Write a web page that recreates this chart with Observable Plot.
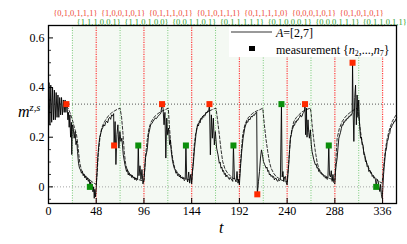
<!DOCTYPE html>
<html><head><meta charset="utf-8">
<script src="https://cdn.jsdelivr.net/npm/d3@7"></script>
<script src="https://cdn.jsdelivr.net/npm/@observablehq/plot@0.6"></script>
<style>
body{margin:0;background:#fff;}
#wrap{position:relative;width:407px;height:244px;font-family:"Liberation Serif",serif;color:#000;}
#wrap svg{position:absolute;left:0;top:0;}
#wrap svg text{font-family:"Liberation Serif",serif;}
.ov{position:absolute;white-space:nowrap;font-family:"Liberation Serif",serif;}
</style></head><body><div id="wrap"></div>
<script>
// ---------- data ----------
const xTicks = [0, 48, 96, 144, 192, 240, 288, 336];
const yTicks = [0, 0.2, 0.4, 0.6];
const yMinor = [-0.05, 0.05, 0.1, 0.15, 0.25, 0.3, 0.35, 0.45, 0.5, 0.55];
const redLines = [48, 96, 144, 192, 240, 288, 336];
const greenLines = [24, 72, 120, 168, 216, 264, 312];
const thirdLevel = [1 / 3];
const zeroLevel = [0];
const shadeStart = [24];
const shadeEnd = [336];

const redT = [18, 66, 114.2, 161.9, 210, 258, 305.8];
const redV = [1/3, 1/6, 1/3, 1/3, -0.03, 1/3, 0.5];
const greenT = [41.6, 90.3, 138.2, 186, 234.3, 281.9, 329.6];
const greenV = [0, 1/6, 1/6, 1/6, 1/3, 1/6, 0];

const redLabels = ["{0,1,0,1,1,1}", "{1,0,0,1,0,1}", "{0,1,1,1,0,1}", "{0,1,0,1,1,1}", "{0,1,1,1,1,0}", "{0,0,0,1,0,1}", "{0,1,0,1,0,1}"];
const redLabelT = [27, 75, 123, 171, 219, 267, 315];
const greenLabels = ["{1,1,1,0,0,1}", "{1,1,0,1,0,0}", "{0,0,1,1,0,1}", "{0,1,1,1,1,1}", "{0,1,0,0,0,1}", "{0,0,0,1,1,1}", "{0,1,1,0,1,1}"];
const greenLabelT = [50.5, 98.5, 146.5, 194.5, 242.5, 290.5, 338];

const solid0 = [[0,0.25],[0.5,0.42],[1.4,0.25],[2.3,0.41],[3.2,0.26],[4.1,0.40],[5,0.27],[5.9,0.39],[6.8,0.27],[7.7,0.38],[8.6,0.28],[9.5,0.37],[10.4,0.28],[11.3,0.36],[12.2,0.29],[13.1,0.36],[14,0.29],[14.9,0.35],[15.8,0.30],[16.7,0.35],[17.5,0.30],[18,0.333]];
const solid1 = [[18.8,0.317],[19.5,0.27],[20.1,0.30],[20.8,0.24],[21.5,0.29],[22.2,0.20],[23,0.26],[23.4,0.13],[24,0.25],[24.8,0.24],[25.8,0.196],[26.8,0.223],[27.6,0.17],[28.4,0.185],[29.2,0.142],[30.2,0.095],[31.2,0.075],[32.2,0.068],[33.2,0.055],[34.1,0.062],[34.9,0.045],[35.7,0.052],[36.6,0.036],[37.5,0.044],[38.3,0.028],[39.2,0.036],[40.1,0.022],[41,0.03],[41.6,0],[42.4,0.02],[43.2,0.002],[44,0.01],[44.7,-0.02],[45.4,0.0],[46,-0.046],[46.6,-0.01],[47.3,-0.04],[48,-0.005]];
const solid2 = [[48.8,0.06],[49.6,0.12],[50.5,0.165],[51.5,0.2],[52.5,0.215],[53.5,0.23],[54.5,0.238],[55.5,0.25],[56.5,0.245],[57.5,0.26],[58.5,0.265],[59.5,0.258],[60.5,0.275],[61.5,0.28],[62.5,0.272],[63.5,0.29],[64.5,0.285],[65.5,0.295],[66,0.167],[67,0.263],[67.8,0.09],[68.8,0.21],[69.8,0.25],[70.8,0.156],[71.8,0.223],[72.8,0.183],[73.8,0.196],[75.2,0.129],[76.9,0.089],[78.5,0.062],[79.4,0.07],[80.2,0.048],[81.1,0.056],[81.9,0.045],[82.8,0.05],[83.6,0.038],[84.4,0.046],[85.2,0.035],[86,0.04],[86.9,0.028],[87.8,0.036],[88.6,0.026],[89.6,0.03],[90.3,0.167],[91,0.045],[92,0.085],[93,0.03],[94,0.07],[95,0.012],[96,0.03]];
const solid3 = [[96.8,0.07],[97.7,0.12],[99.3,0.15],[100.6,0.21],[101.7,0.23],[102.7,0.25],[104,0.255],[105,0.263],[106.2,0.27],[107.3,0.277],[108.6,0.275],[110,0.284],[111.5,0.29],[113,0.297],[114.2,0.333],[115.2,0.317],[116.2,0.25],[117.1,0.30],[118,0.116],[118.9,0.277],[119.8,0.21],[120.8,0.237],[121.8,0.17],[122.6,0.19],[123.5,0.142],[124.8,0.102],[126.5,0.075],[127.4,0.068],[128.2,0.055],[129,0.06],[129.9,0.045],[130.8,0.05],[131.6,0.04],[132.4,0.046],[133.2,0.035],[134,0.04],[134.9,0.032],[135.8,0.036],[136.6,0.025],[137.5,0.03],[138.2,0.167],[139,0.035],[140,0.02],[141,0.06],[142,0.015],[143,0.05],[144,0.012]];
const solid4 = [[144.8,0.06],[145.6,0.09],[146.9,0.156],[148.3,0.21],[149.9,0.25],[150.8,0.245],[151.7,0.263],[152.5,0.258],[153.4,0.277],[154.2,0.272],[155,0.284],[156,0.28],[156.7,0.29],[157.6,0.287],[158.4,0.301],[159.3,0.298],[160.1,0.306],[161,0.303],[161.9,0.333],[162.8,0.129],[163.8,0.29],[164.8,0.196],[165.8,0.277],[166.8,0.169],[167.8,0.223],[169.1,0.156],[170.5,0.129],[171.8,0.095],[172.6,0.1],[173.5,0.075],[174.3,0.08],[175.2,0.062],[176,0.066],[176.9,0.05],[177.7,0.055],[178.5,0.04],[179.3,0.048],[180.2,0.042],[181,0.036],[181.9,0.03],[182.7,0.038],[183.6,0.032],[184.4,0.028],[185.3,0.022],[186,0.167],[187,0.032],[188,0.028],[188.6,0.02],[189.6,0.062],[190.6,0.015],[191.3,0.03],[192,0.008]];
const solid5 = [[193,0.075],[194.3,0.142],[195.7,0.196],[197.4,0.237],[198.4,0.25],[199.4,0.263],[200.4,0.26],[201.4,0.274],[202.6,0.27],[203.8,0.284],[205,0.282],[206.1,0.29],[207.1,0.288],[208.1,0.297],[209.4,0.301],[210,-0.03],[211.2,0.022],[212.2,0.062],[213.2,0.116],[214.2,0.149],[215.2,0.129],[216.2,0.102],[217.5,0.089],[218.9,0.075],[219.7,0.08],[220.5,0.062],[221.4,0.066],[222.2,0.048],[223,0.052],[223.9,0.042],[224.7,0.046],[225.5,0.038],[226.4,0.042],[227.2,0.028],[228,0.034],[228.9,0.035],[229.7,0.026],[230.5,0.022],[231.4,0.03],[232.2,0.025],[233.2,0.028],[234.3,0.333],[235,0.04],[235.8,0.062],[236.6,0.022],[237.5,0.04],[238.3,0.042],[239.2,0.015],[240,0.008]];
const solid6 = [[240.8,0.05],[241.6,0.09],[242.5,0.15],[243.3,0.196],[244.2,0.21],[245,0.23],[245.9,0.238],[246.7,0.25],[247.5,0.248],[248.3,0.263],[249.2,0.26],[250,0.27],[250.8,0.268],[251.7,0.277],[252.5,0.28],[253.4,0.29],[254.2,0.282],[255,0.284],[255.8,0.295],[256.7,0.30],[257.5,0.306],[258,0.333],[258.6,0.21],[259.4,0.317],[260,0.2],[261,0.27],[261.7,0.22],[262.4,0.196],[263.4,0.23],[264.3,0.17],[265.1,0.142],[266.8,0.11],[268.4,0.089],[269.2,0.092],[270.1,0.075],[271,0.078],[271.8,0.062],[272.6,0.066],[273.5,0.055],[274.3,0.058],[275.2,0.048],[276,0.05],[276.8,0.042],[277.7,0.045],[278.5,0.035],[279.3,0.04],[280.2,0.03],[281,0.033],[281.9,0.167],[282.6,0.048],[283.6,0.04],[284.4,0.065],[285.3,0.022],[286.1,0.05],[286.9,0.018],[288,0.012]];
const solid7 = [[288.6,0.06],[289.4,0.09],[290.3,0.116],[291.2,0.16],[292,0.196],[293.7,0.22],[294.5,0.235],[295.3,0.25],[296.2,0.248],[297,0.263],[297.8,0.26],[298.7,0.27],[299.5,0.268],[300.4,0.277],[301.2,0.275],[302,0.284],[302.9,0.282],[303.7,0.29],[304.5,0.288],[305.4,0.297],[305.8,0.5],[306.4,0.3],[307.1,0.183],[308,0.36],[308.8,0.41],[309.6,0.25],[310.4,0.37],[311.2,0.28],[312,0.35],[312.8,0.26],[313.8,0.196],[314.6,0.2],[315.5,0.169],[316.3,0.17],[317.2,0.129],[318,0.13],[318.8,0.102],[319.6,0.106],[320.5,0.082],[321.3,0.086],[322.2,0.062],[323,0.068],[323.9,0.055],[324.7,0.058],[325.6,0.042],[326.4,0.046],[327.2,0.035],[328.1,0.038],[328.9,0.028],[329.6,0],[330.5,0.03],[331.6,0.022],[332.4,0.0],[333.3,-0.019],[334,0.01],[334.8,-0.03],[335.6,-0.046],[336.2,-0.01]];
const solid8 = [[337,0.05],[337.8,0.089],[339,0.142],[339.8,0.15],[340.7,0.183],[341.5,0.19],[342.3,0.21],[343.2,0.215],[344,0.237],[344.8,0.238],[345.7,0.25],[346.5,0.252],[347.4,0.263],[348.2,0.262],[349,0.27],[350,0.277]];

const dashedPts = [[18,0.324],[20,0.315],[22,0.295],[24,0.27],[26,0.24],[28.2,0.21],[29.5,0.17],[30.5,0.13],[31.5,0.095],[33,0.07],[35,0.052],[38,0.04],[41,0.03],[44,0.02],[47,0.012],[48,0.01],
[49,0.06],[50,0.13],[51.7,0.196],[53.4,0.235],[55,0.252],[56.7,0.265],[60,0.285],[63.4,0.298],[66,0.305],[69,0.312],[72,0.317],[73.5,0.28],[74.8,0.22],[76.2,0.14],[77.5,0.095],[79,0.07],[82,0.05],[86,0.038],[90,0.03],[94,0.025],[96,0.022],
[97.5,0.12],[99.3,0.19],[101,0.235],[103,0.26],[106,0.28],[110,0.295],[114,0.305],[118,0.312],[120.5,0.317],[121.5,0.25],[123,0.17],[124.8,0.116],[127,0.075],[130,0.055],[135,0.038],[140,0.03],[144,0.025],
[145.5,0.1],[146.6,0.169],[148,0.215],[150,0.25],[152.5,0.27],[155,0.284],[158,0.296],[161.8,0.306],[166.8,0.315],[168.5,0.317],[170,0.27],[171.8,0.21],[173.5,0.15],[175.2,0.102],[177.5,0.072],[180.2,0.055],[185.2,0.035],[191.3,0.028],[192,0.03],
[193.5,0.12],[195.3,0.21],[197.5,0.25],[200.4,0.277],[205.4,0.297],[209,0.305],[212.1,0.31],[215.5,0.317],[217.1,0.25],[218.8,0.19],[220.5,0.142],[222.2,0.1],[223.9,0.075],[226.4,0.055],[228.9,0.042],[233.9,0.028],[238,0.022],[240,0.02],
[241.6,0.1],[243.3,0.196],[245,0.235],[246.7,0.263],[249,0.278],[251.7,0.29],[255,0.302],[258.4,0.31],[263.4,0.317],[264.3,0.29],[265.1,0.25],[266.8,0.19],[268.4,0.142],[270.1,0.1],[271.8,0.075],[274,0.058],[276.8,0.048],[281.9,0.035],[286.9,0.028],[288,0.026],
[289.2,0.12],[290.3,0.196],[292.5,0.235],[295.3,0.263],[297.8,0.278],[300.4,0.29],[305.4,0.306],[310.4,0.317],[312,0.28],[313.8,0.223],[315.5,0.18],[317.2,0.142],[319.6,0.1],[322.2,0.075],[324.7,0.055],[327.2,0.042],[332.3,0.022],[335.6,0.015],
[337,0.08],[339,0.156],[340.7,0.195],[342.3,0.223],[344,0.245],[345.7,0.263],[347.7,0.278],[349.7,0.29]];

// ---------- build ----------
const FONT = "Liberation Serif";
const toObj = ([t, v]) => ({t, v});
const solid = [].concat(solid0, solid1, solid2, solid3, solid4, solid5, solid6, solid7, solid8).map(toObj);
const dashed = dashedPts.map(toObj);
const redMeas = redT.map((t, i) => ({t, v: redV[i]}));
const greenMeas = greenT.map((t, i) => ({t, v: greenV[i]}));
const shade = shadeStart.map((s, i) => ({x1: s, x2: shadeEnd[i]}));

const W = 407, H = 244, ML = 48, MR = 11, MT = 25, MB = 41;
const plotW = W - ML - MR, plotH = H - MT - MB;

const chart = Plot.plot({
  width: W, height: H,
  marginLeft: ML, marginRight: MR, marginTop: MT, marginBottom: MB,
  style: {fontFamily: FONT, fontSize: "12px", background: "transparent", overflow: "visible"},
  x: {domain: [0, 350]},
  y: {domain: [-0.067, 0.65]},
  marks: [
    Plot.rect(shade, {x1: "x1", x2: "x2", fill: "#f4f9f3"}),
    Plot.ruleX(greenLines, {stroke: "#5cbf5c", strokeWidth: 0.8, strokeDasharray: "1,1.5"}),
    Plot.ruleX(redLines, {stroke: "#ff3a3a", strokeWidth: 1.2, strokeDasharray: "1.2,1.2"}),
    Plot.ruleY(zeroLevel, {stroke: "#9a9a9a", strokeWidth: 0.9, strokeDasharray: "1,2"}),
    Plot.ruleY(thirdLevel, {stroke: "#444", strokeWidth: 0.9, strokeDasharray: "1,2"}),
    Plot.line(dashed, {x: "t", y: "v", stroke: "black", strokeWidth: 0.8, strokeDasharray: "3,2"}),
    Plot.line(solid, {x: "t", y: "v", stroke: "black", strokeWidth: 0.9}),
    Plot.dot(redMeas, {x: "t", y: "v", symbol: "square", r: 3.4, fill: "#ff2a00", stroke: "none"}),
    Plot.dot(greenMeas, {x: "t", y: "v", symbol: "square", r: 3.4, fill: "#0b8f0b", stroke: "none"}),
    Plot.tickY(yTicks, {insetRight: plotW - 5, stroke: "black", strokeWidth: 1}),
    Plot.tickY(yMinor, {insetRight: plotW - 3, stroke: "black", strokeWidth: 0.8}),
    Plot.tickX(xTicks, {insetTop: plotH - 5, stroke: "black", strokeWidth: 1}),
    Plot.axisX(xTicks, {tickSize: 0, tickPadding: 3, fontSize: 12, fontFamily: FONT, label: null}),
    Plot.axisY(yTicks, {tickSize: 0, tickPadding: 4, fontSize: 12, fontFamily: FONT, label: null, tickFormat: d => d === 0 ? "0" : d.toFixed(1)}),
    Plot.text(redLabels, {x: (d, i) => redLabelT[i], text: d => d, frameAnchor: "top", dy: -15.3, fill: "#ee4a38", fontSize: 8.5, fontFamily: FONT}),
    Plot.text(greenLabels, {x: (d, i) => greenLabelT[i], text: d => d, frameAnchor: "top", dy: -6.5, fill: "#2f9f2f", fontSize: 8.5, fontFamily: FONT}),
    Plot.frame({stroke: "black", strokeWidth: 1.3})
  ]
});

const wrap = document.getElementById("wrap");
wrap.appendChild(chart);

// legend (inside plot, top-right) and axis titles
const legend = document.createElement("div");
legend.className = "ov";
legend.style.cssText = "left:229px;top:26.5px;width:166px;height:30px;background:#fff;";
legend.innerHTML =
  '<div style="position:absolute;left:2px;top:4.7px;width:41px;height:1.6px;background:#999"></div>' +
  '<div style="position:absolute;left:47px;top:1px;font-size:12px;line-height:10px"><i>A</i>=[2,7]</div>' +
  '<div style="position:absolute;left:20px;top:19px;width:5.5px;height:5.5px;background:#000"></div>' +
  '<div style="position:absolute;left:47px;top:17px;font-size:12px;line-height:12px">measurement {<i>n</i><span style="font-size:8px;position:relative;top:2px">2</span>,...,<i>n</i><span style="font-size:8px;position:relative;top:2px">7</span>}</div>';
wrap.appendChild(legend);

const ytitle = document.createElement("div");
ytitle.className = "ov";
ytitle.style.cssText = "left:18px;top:104px;font-size:16px;line-height:16px;";
ytitle.innerHTML = '<i>m</i><span style="font-size:10.5px;position:relative;top:-6px;font-style:italic">z,s</span>';
wrap.appendChild(ytitle);

const xtitle = document.createElement("div");
xtitle.className = "ov";
xtitle.style.cssText = "left:219px;top:220px;font-size:16px;line-height:16px;font-style:italic;";
xtitle.textContent = "t";
wrap.appendChild(xtitle);
</script></body></html>
